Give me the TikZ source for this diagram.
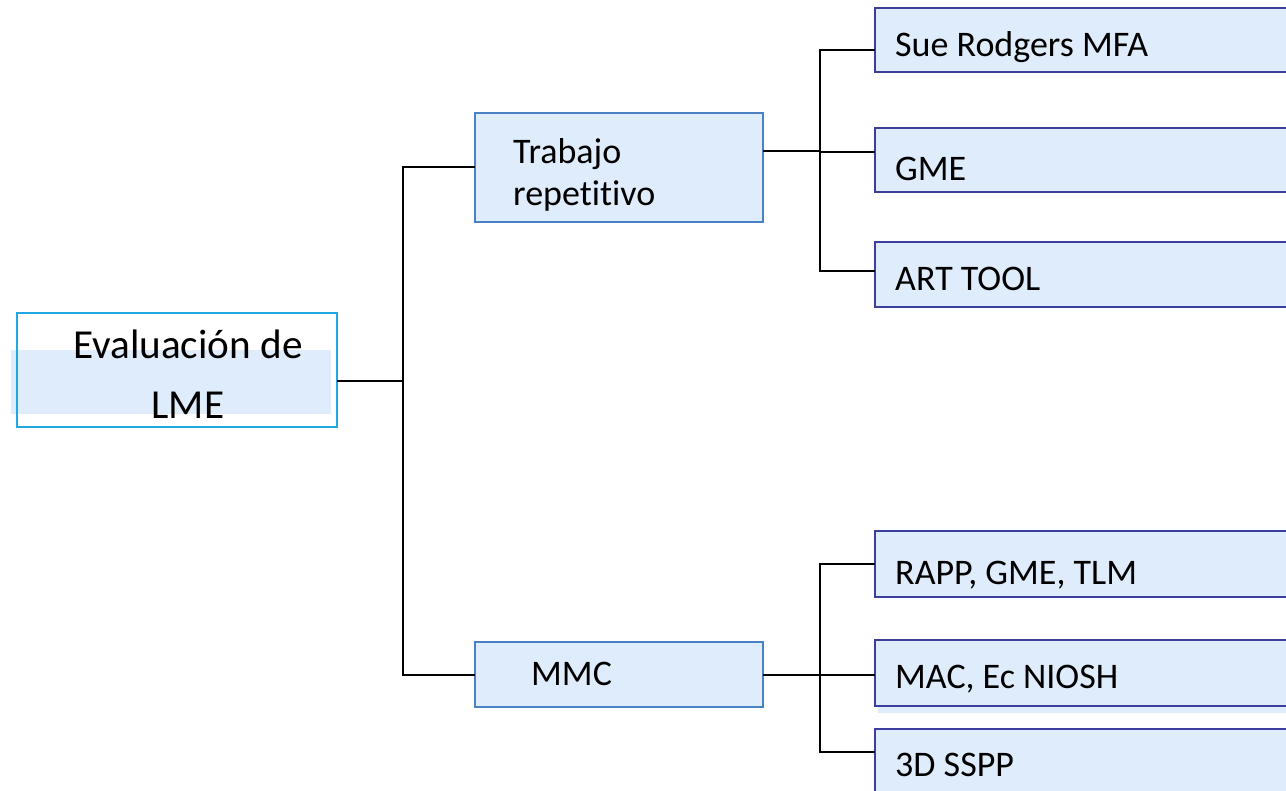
\documentclass[tikz,border=0pt]{standalone}
\usepackage{fontspec}
\setmainfont{Carlito}[Ligatures=NoCommon]
\definecolor{boxfill}{HTML}{DFECFB}
\definecolor{rootline}{HTML}{21A8E0}
\definecolor{midline}{HTML}{4A80C4}
\definecolor{leafline}{HTML}{3B3E9C}
\tikzset{
  conn/.style={draw=black, line width=1.5pt},
  rootbox/.style={draw=rootline, line width=1.6pt},
  midbox/.style={draw=midline, fill=boxfill, line width=1.8pt},
  leafbox/.style={draw=leafline, fill=boxfill, line width=1.8pt},
  txt/.style={inner sep=0pt, font=\fontsize{36}{40}\selectfont},
  roottxt/.style={inner sep=0pt, font=\fontsize{41.2}{46}\selectfont},
}
\begin{document}
\begin{tikzpicture}[x=1pt,y=-1pt]
\useasboundingbox (0,0) rectangle (1286,791);
% root
\fill[boxfill] (11,350) rectangle (331,414);
\draw[rootbox] (17,313) rectangle (337,427);
\coordinate (rootE) at (337,381);
\node[roottxt, anchor=base] (rt1) at (188,359) {Evaluación de};
\node[roottxt, anchor=base] (rt2) at (188,419) {LME};
% middle boxes
\draw[midbox] (475,113) rectangle (763,222);
\coordinate (trW) at (475,167);
\coordinate (trE) at (763,151);
\node[txt, anchor=base west] (tr1) at (513,164) {Trabajo};
\node[txt, anchor=base west] (tr2) at (513,206) {repetitivo};
\draw[midbox] (475,642) rectangle (763,707);
\coordinate (mmW) at (475,675);
\coordinate (mmE) at (763,675);
\node[txt, anchor=base west] (mm) at (531,685) {MMC};
% leaf boxes
\fill[boxfill] (878,649) rectangle (1286,713);
\foreach \ya/\yb in {8/72,128/192,242/307,531/597,640/706,729/800}{
  \draw[leafbox] (875,\ya) rectangle (1300,\yb);
}
\coordinate (l1) at (875,50);
\coordinate (l2) at (875,152);
\coordinate (l3) at (875,271);
\coordinate (l4) at (875,564);
\coordinate (l5) at (875,675);
\coordinate (l6) at (875,752);
\node[txt, anchor=base west] (t1) at (895,57) {Sue Rodgers MFA};
\node[txt, anchor=base west] (t2) at (895,181) {GME};
\node[txt, anchor=base west] (t3) at (895,291) {ART TOOL};
\node[txt, anchor=base west] (t4) at (895,584) {RAPP, GME, TLM};
\node[txt, anchor=base west] (t5) at (895,688) {MAC, Ec NIOSH};
\node[txt, anchor=base west] (t6) at (895,776) {3D SSPP};
% connectors
\draw[conn] (rootE) -- (403,381);
\draw[conn] (trW) -| (403,675) -- (mmW);
\draw[conn] (trE) -- (820,151);
\draw[conn] (l1) -| (820,271) -- (l3);
\draw[conn] (820,152) -- (l2);
\draw[conn] (mmE) -- (820,675) -- (l5);
\draw[conn] (l4) -| (820,752) -- (l6);
\end{tikzpicture}
\end{document}
